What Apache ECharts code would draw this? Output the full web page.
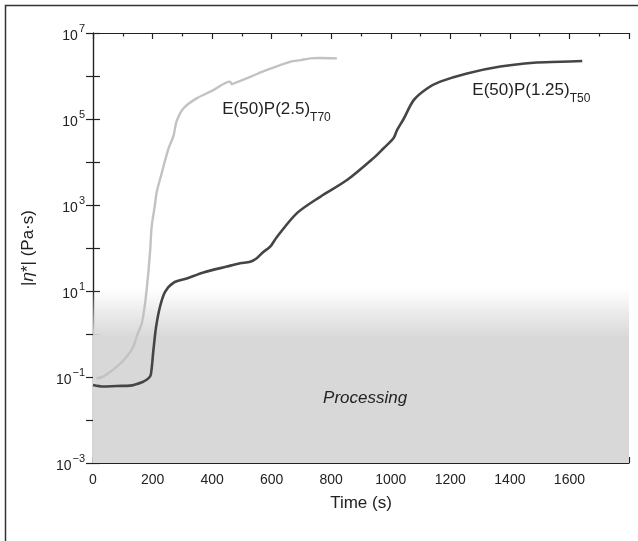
<!DOCTYPE html>
<html>
<head>
<meta charset="utf-8">
<script src="https://cdn.jsdelivr.net/npm/echarts@6/dist/echarts.min.js"></script>
<style>
html,body{margin:0;padding:0;background:#fff;}
#c{width:638px;height:541px;}
</style>
</head>
<body>
<div id="c"></div>
<script>
// E(50)P(2.5)T70 (light gray curve)
var timeLight = [12, 34, 80, 113, 135, 147, 164, 175, 180, 186, 192, 197, 208, 214, 231, 253, 270, 281, 304, 348, 404, 460, 466, 470, 528, 584, 662, 696, 729, 760, 819];
var etaLight = [0.093, 0.102, 0.174, 0.295, 0.5, 0.89, 1.8, 5.2, 10.5, 28, 89, 316, 1000, 2000, 5600, 20000, 40000, 89000, 178000, 302000, 468000, 741000, 646000, 660000, 955000, 1380000, 2140000, 2340000, 2570000, 2630000, 2570000];

// E(50)P(1.25)T50 (dark curve)
var timeDark = [0, 35, 80, 124, 169, 186, 194, 203, 212, 225, 242, 270, 315, 371, 449, 494, 528, 550, 572, 595, 617, 685, 763, 853, 942, 976, 1009, 1021, 1043, 1077, 1122, 1166, 1256, 1368, 1480, 1570, 1643];
var etaDark = [0.065, 0.060, 0.062, 0.063, 0.078, 0.093, 0.112, 0.43, 1.48, 4.3, 9.5, 15.5, 19.5, 27, 37, 44, 48, 58, 81, 107, 178, 646, 1550, 3800, 12300, 20900, 35500, 55000, 100000, 275000, 513000, 741000, 1150000, 1660000, 2040000, 2140000, 2240000];

var xTickLabels = ['0', '200', '400', '600', '800', '1000', '1200', '1400', '1600'];
var yTickValues = [0.001, 0.01, 0.1, 1, 10, 100, 1000, 10000, 100000, 1000000, 10000000];
var yLabelValues = [0.001, 0.1, 10, 1000, 100000, 10000000];
var seriesNames = ['E(50)P(2.5)T70', 'E(50)P(1.25)T50'];

function pairs(xs, ys) { return xs.map(function (x, i) { return [x, ys[i]]; }); }

var FONT = '"Liberation Sans", Arial, sans-serif';
var chart = echarts.init(document.getElementById('c'), null, {renderer: 'canvas'});

var yLabelFmt = function (v) {
  var e = Math.round(Math.log(v) / Math.LN10);
  if (Math.abs(e) % 2 === 0) return '';
  return '{b|10}{s|' + (e < 0 ? '\u2212' + (-e) : e) + '}';
};
var yRich = {
  b: {fontSize: 14, fontFamily: FONT, color: '#222', lineHeight: 20, verticalAlign: 'bottom'},
  s: {fontSize: 11, fontFamily: FONT, color: '#222', verticalAlign: 'top', padding: [0, 0, 0, 1]}
};

var option = {
  animation: false,
  backgroundColor: '#fff',
  grid: {left: 93, top: 33, right: 9, bottom: 78, containLabel: false},
  graphic: [{
    type: 'rect', shape: {x: 5.5, y: 5.5, width: 660, height: 560},
    style: {fill: null, stroke: '#333', lineWidth: 1.5}, silent: true, z: 100
  }],
  xAxis: [{
    type: 'value', min: 0, max: 1800, interval: 200, position: 'bottom',
    name: 'Time (s)', nameLocation: 'middle', nameGap: 32,
    nameTextStyle: {fontSize: 17, fontFamily: FONT, color: '#222'},
    axisLine: {show: true, lineStyle: {color: '#222', width: 1.2}},
    axisTick: {show: true, inside: true, length: 6, lineStyle: {color: '#222', width: 1.2}},
    minorTick: {show: true, splitNumber: 2, length: 3.5, lineStyle: {color: '#222', width: 1.2}},
    splitLine: {show: false},
    axisLabel: {
      fontSize: 14, fontFamily: FONT, color: '#222', margin: 10,
      formatter: function (v) { var i = v / 200; return i < xTickLabels.length ? xTickLabels[i] : ''; }
    }
  }, {
    type: 'value', min: 0, max: 1800, interval: 200, position: 'top',
    axisLine: {show: true, lineStyle: {color: '#222', width: 1.2}},
    axisTick: {show: true, inside: true, length: 6, lineStyle: {color: '#222', width: 1.2}},
    minorTick: {show: true, splitNumber: 2, length: 3.5, lineStyle: {color: '#222', width: 1.2}},
    splitLine: {show: false}, axisLabel: {show: false}
  }],
  yAxis: [{
    type: 'log', logBase: 10, min: 0.001, max: 10000000, position: 'left',
    name: '|{i|\u03b7}*| (Pa\u00b7s)', nameLocation: 'middle', nameGap: 56, nameRotate: 90,
    nameTextStyle: {fontSize: 17, fontFamily: FONT, color: '#222',
      rich: {i: {fontSize: 17, fontFamily: FONT, fontStyle: 'italic', color: '#222'}}},
    axisLine: {show: true, lineStyle: {color: '#222', width: 1.2}},
    axisTick: {show: true, inside: true, length: 7, customValues: yTickValues, lineStyle: {color: '#222', width: 1.2}},
    minorTick: {show: false},
    splitLine: {show: false},
    axisLabel: {margin: 8, customValues: yLabelValues, formatter: yLabelFmt, rich: yRich}
  }, {
    type: 'log', logBase: 10, min: 0.001, max: 10000000, position: 'right',
    axisLine: {show: true, lineStyle: {color: '#222', width: 1.2}},
    axisTick: {show: true, inside: true, length: 7, customValues: yTickValues, lineStyle: {color: '#222', width: 1.2}},
    splitLine: {show: false}, axisLabel: {show: false}
  }],
  series: [{
    name: seriesNames[0], type: 'line', xAxisIndex: 0, yAxisIndex: 0,
    data: pairs(timeLight, etaLight), showSymbol: false, symbol: 'none', smooth: 0.3, z: 3,
    lineStyle: {color: '#c2c2c2', width: 2.4},
    markPoint: {
      symbol: 'circle', symbolSize: 0, silent: true,
      data: [{coord: [434, 145000], label: {
        show: true, position: 'right', distance: 0,
        formatter: '{m|E(50)P(2.5)}{u|T70}',
        rich: {m: {fontSize: 17, fontFamily: FONT, color: '#222', lineHeight: 22, verticalAlign: 'top'},
               u: {fontSize: 12, fontFamily: FONT, color: '#222', verticalAlign: 'bottom', padding: [0, 0, -1, 0]}}
      }}]
    }
  }, {
    name: seriesNames[1], type: 'line', xAxisIndex: 0, yAxisIndex: 0,
    data: pairs(timeDark, etaDark), showSymbol: false, symbol: 'none', smooth: 0.3, z: 4,
    lineStyle: {color: '#454545', width: 2.6},
    markPoint: {
      symbol: 'circle', symbolSize: 0, silent: true,
      data: [{coord: [1274, 400000], label: {
        show: true, position: 'right', distance: 0,
        formatter: '{m|E(50)P(1.25)}{u|T50}',
        rich: {m: {fontSize: 17, fontFamily: FONT, color: '#222', lineHeight: 22, verticalAlign: 'top'},
               u: {fontSize: 12, fontFamily: FONT, color: '#222', verticalAlign: 'bottom', padding: [0, 0, -1, 0]}}
      }}, {coord: [914, 0.032], label: {
        show: true, position: 'inside', formatter: 'Processing',
        fontSize: 17, fontStyle: 'italic', fontFamily: FONT, color: '#222'
      }}]
    },
    markArea: {
      silent: true,
      itemStyle: {
        color: new echarts.graphic.LinearGradient(0, 0, 0, 1, [
          {offset: 0, color: 'rgba(216,216,216,0)'},
          {offset: 0.12, color: 'rgba(216,216,216,0.45)'},
          {offset: 0.28, color: 'rgba(216,216,216,1)'},
          {offset: 1, color: 'rgba(216,216,216,1)'}
        ])
      },
      data: [[{coord: [0, 11]}, {coord: [1800, 0.001]}]]
    }
  }]
};
chart.setOption(option);
</script>
</body>
</html>
